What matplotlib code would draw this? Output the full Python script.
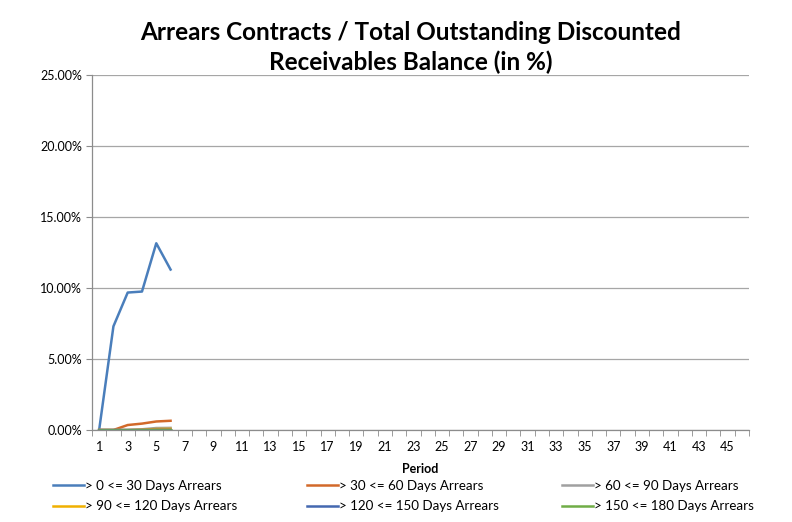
import matplotlib.pyplot as plt
import numpy as np
from matplotlib import ticker

plt.rcParams['font.family'] = ['Lato', 'DejaVu Sans']

periods = list(range(1, 47))
observed = [1, 2, 3, 4, 5, 6]

series_names = [
    "> 0 <= 30 Days Arrears",
    "> 30 <= 60 Days Arrears",
    "> 60 <= 90 Days Arrears",
    "> 90 <= 120 Days Arrears",
    "> 120 <= 150 Days Arrears",
    "> 150 <= 180 Days Arrears",
]
arr_0_30 = [0.0, 7.30, 9.68, 9.75, 13.15, 11.30]
arr_30_60 = [0.0, 0.0, 0.35, 0.45, 0.60, 0.65]
arr_60_90 = [0.0, 0.0, 0.0, 0.05, 0.14, 0.15]
arr_90_120 = [0.0, 0.0, 0.0, 0.02, 0.07, 0.08]
arr_120_150 = [0.0, 0.0, 0.0, 0.0, 0.01, 0.01]
arr_150_180 = [0.0, 0.0, 0.0, 0.0, 0.0, 0.0]
series_values = [arr_0_30, arr_30_60, arr_60_90, arr_90_120, arr_120_150, arr_150_180]
colors = ["#4A7EBB", "#D2692A", "#A0A0A0", "#F0B000", "#4468B0", "#70AD47"]

fig = plt.figure(figsize=(7.92, 5.22), dpi=100)
ax = fig.add_axes([92 / 792, 1 - 430 / 522, 657 / 792, 355 / 522])

handles = []
x = np.array(observed) - 0.5
for vals, name, col in zip(series_values, series_names, colors):
    h, = ax.plot(x, np.array(vals) / 100, color=col, lw=1.8, label=name,
                 solid_joinstyle='round')
    handles.append(h)
# light blue baseline line seen along the bottom
ax.plot(x, np.zeros(len(x)), color="#9DC3E6", lw=1.8, zorder=1.5)

ax.set_xlim(0, len(periods))
ax.set_ylim(0, 0.25)
ax.yaxis.set_major_locator(ticker.MultipleLocator(0.05))
ax.yaxis.set_major_formatter(ticker.FuncFormatter(lambda v, p: f"{v * 100:.2f}%"))
ax.grid(axis='y', color="#A6A6A6", lw=0.9)
ax.set_axisbelow(True)

ax.set_xticks(np.arange(0, len(periods) + 1), minor=True)
ax.set_xticks(np.arange(len(periods))[::2] + 0.5)
ax.set_xticklabels([str(p) for p in periods[::2]])
ax.tick_params(axis='x', which='major', length=0, labelsize=9, pad=8)
ax.tick_params(axis='x', which='minor', length=4, color="#8C8C8C", direction='out')
ax.tick_params(axis='y', length=4, color="#8C8C8C", labelsize=9, pad=3)

for s in ['top', 'right']:
    ax.spines[s].set_visible(False)
for s in ['left', 'bottom']:
    ax.spines[s].set_color("#8C8C8C")
    ax.spines[s].set_linewidth(0.9)

ax.set_xlabel("Period", fontsize=9, fontweight='bold', labelpad=7)

fig.text(411 / 792, 1 - 33 / 522, "Arrears Contracts / Total Outstanding Discounted",
         ha='center', va='center', fontsize=17.5, fontweight='bold')
fig.text(411 / 792, 1 - 62 / 522, "Receivables Balance (in %)",
         ha='center', va='center', fontsize=17.5, fontweight='bold')

# legend laid out row by row, one small legend per column
col_x = [53, 307, 562]
for c in range(3):
    pair = [c, c + 3]
    fig.legend([handles[i] for i in pair], [series_names[i] for i in pair],
               loc='upper left', bbox_to_anchor=(col_x[c] / 792, 1 - 480 / 522),
               frameon=False, fontsize=9.6, handlelength=2.3, handletextpad=0.1,
               labelspacing=0.62, borderpad=0, borderaxespad=0)

plt.savefig("out.png", dpi=100)
